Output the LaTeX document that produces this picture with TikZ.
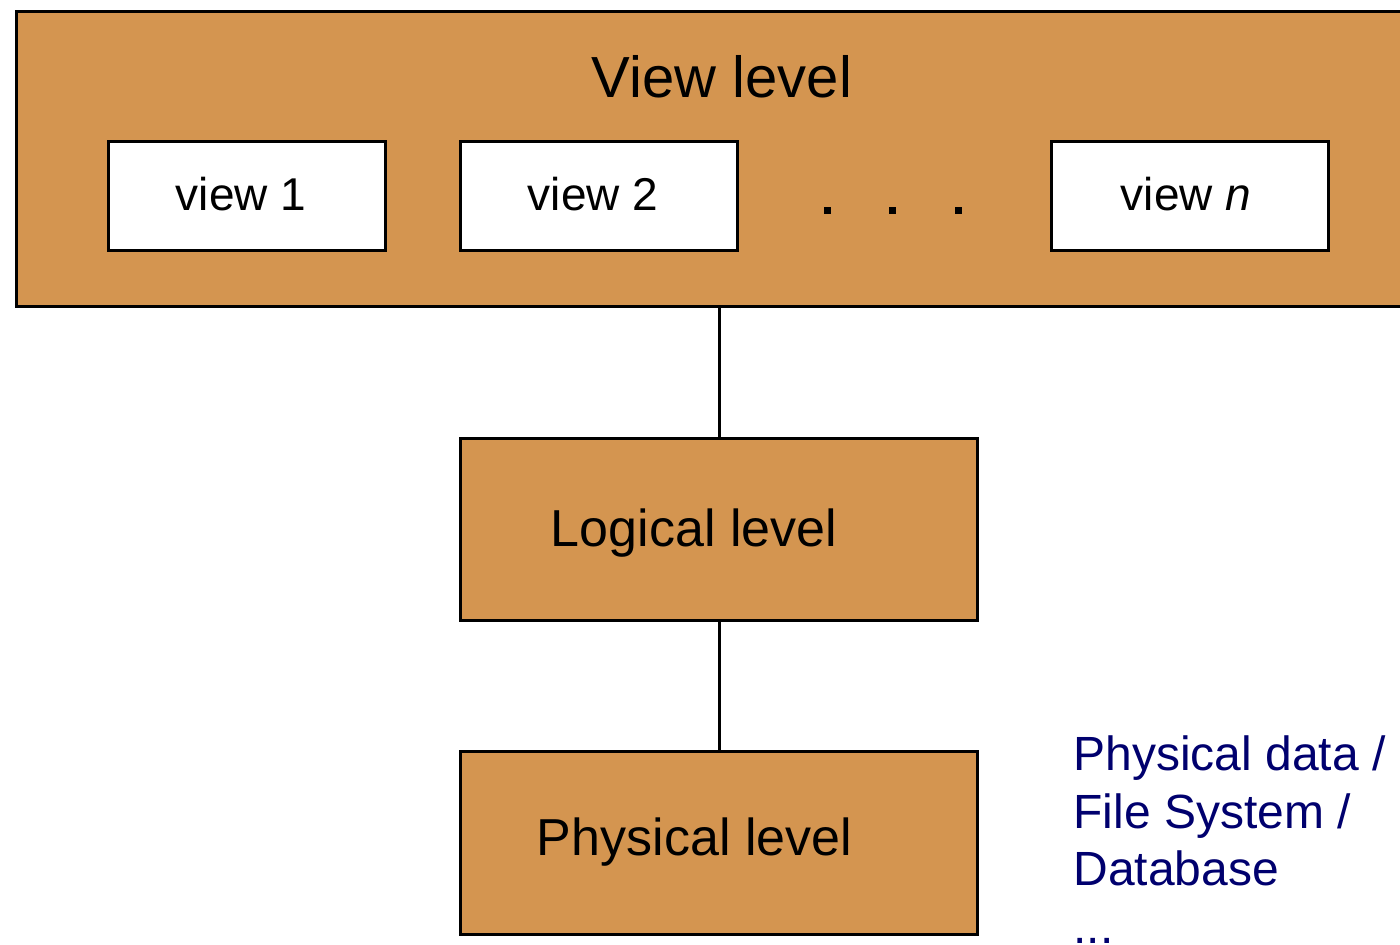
\documentclass[tikz,border=0pt]{standalone}
\usepackage{fontspec}
\setmainfont{Liberation Sans}
\usepackage{tikz}
\usetikzlibrary{calc}
\definecolor{levelfill}{RGB}{212,149,80}
\definecolor{notecolor}{RGB}{0,0,110}

\begin{document}
\begin{tikzpicture}[x=0.5pt,y=-0.5pt,
    levelbox/.style={draw=black,line width=1.5pt,fill=levelfill,inner sep=0pt},
    viewbox/.style={draw=black,line width=1.5pt,fill=white,inner sep=0pt,minimum width=138.5pt,minimum height=54.5pt},
    boxtext/.style={anchor=base,inner sep=0pt,font=\fontsize{26}{30}\selectfont},
    viewtext/.style={anchor=base,inner sep=0pt,font=\fontsize{23}{27}\selectfont}]
  \useasboundingbox (0,0) rectangle (1400,944);
  % view level
  \node[levelbox,minimum width=697pt,minimum height=147.5pt](viewlevel)at(713,158.5){};
  \node[anchor=base,inner sep=0pt,font=\fontsize{29}{33}\selectfont](viewtitle)at(722,97){View level};
  \node[viewbox](view1)at(247,195.5){};
  \node[viewbox](view2)at(599,195.5){};
  \node[viewbox](viewn)at(1189.5,195.5){};
  \node[viewtext](view1text)at(241,210){view 1};
  \node[viewtext](view2text)at(593,210){view 2};
  \node[viewtext](viewntext)at(1186,210){view \textit{n}};
  \foreach \x in {827,892,958}
    \node[fill,inner sep=0pt,minimum size=3.5pt](dot\x)at(\x,210){};
  % logical and physical level
  \node[levelbox,minimum width=258.5pt,minimum height=91pt](logical)at(719,529){};
  \node[boxtext](logicaltext)at(694,546){Logical level};
  \node[levelbox,minimum width=258.5pt,minimum height=91.5pt](physical)at(719,842.5){};
  \node[boxtext](physicaltext)at(694.5,855){Physical level};
  \draw[line width=1.5pt] (logical.north |- viewlevel.south) -- (logical.north);
  \draw[line width=1.5pt] (logical.south) -- (physical.north);
  % note
  \node[anchor=base west,align=left,inner sep=0pt,text=notecolor,font=\fontsize{24}{28.75}\selectfont](note)at(1073,943){Physical data /\\File System /\\Database\\...};
\end{tikzpicture}
\end{document}
